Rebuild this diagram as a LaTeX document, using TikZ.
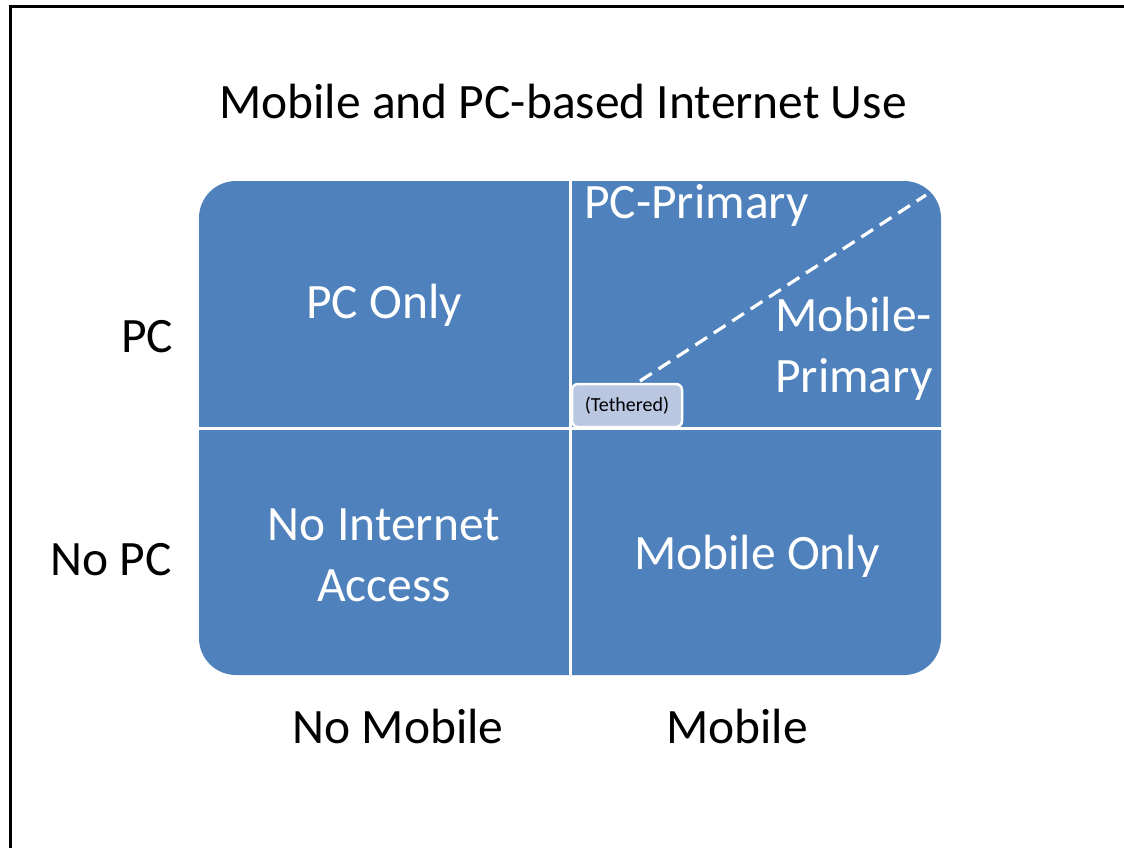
\documentclass[tikz,border=0pt]{standalone}
\usepackage{fontspec}
\setmainfont{Carlito}
\definecolor{cellblue}{RGB}{79,129,189}
\definecolor{tetherfill}{RGB}{185,199,225}
\begin{document}
\begin{tikzpicture}[x=1pt,y=-1pt,
  lbl/.style={font=\fontsize{49.5}{60}\selectfont, text=black, inner sep=0pt},
  celltxt/.style={font=\fontsize{49.5}{61}\selectfont, text=white, inner sep=0pt, align=center},
  divider/.style={draw=white, line width=3pt}]
\useasboundingbox (0,0) rectangle (1124,847);
\clip (0,0) rectangle (1124,847);
\draw[line width=3pt] (10,6) rectangle (1140,870);
\node[lbl] (title) at (563,101) {Mobile and PC-based Internet Use};
\fill[cellblue, rounded corners=37pt] (199,181) rectangle (941,675);
\coordinate (vt) at (570,181);
\coordinate (vb) at (570,675);
\coordinate (hl) at (199,428);
\coordinate (hr) at (941,428);
\draw[divider] (vt) -- (vb);
\draw[divider] (hl) -- (hr);
\coordinate (ds) at (640,381);
\coordinate (de) at (926,195);
\draw[white, line width=3.2pt, dash pattern=on 14pt off 8pt] (ds) -- (de);
\node[draw=white, line width=2.5pt, fill=tetherfill, rounded corners=6pt, minimum width=110pt, minimum height=43pt, inner sep=0pt, font=\fontsize{20}{24}\selectfont] (teth) at (627,405.5) {(Tethered)};
\node[lbl] (pc) at (147,337) {PC};
\node[lbl] (nopc) at (111,560) {No PC};
\node[lbl] (nomob) at (398,726) {No Mobile};
\node[lbl] (mob) at (737,726) {Mobile};
\node[celltxt] (pconly) at (384,305) {PC Only};
\node[celltxt] (noint) at (384,555) {No Internet\\Access};
\node[celltxt] (mobonly) at (757,556) {Mobile Only};
\node[celltxt, anchor=west] (pcprim) at (584,205) {PC-Primary};
\node[celltxt, align=left, anchor=west] (mobprim) at (775,349) {Mobile-\\Primary};
\end{tikzpicture}
\end{document}
